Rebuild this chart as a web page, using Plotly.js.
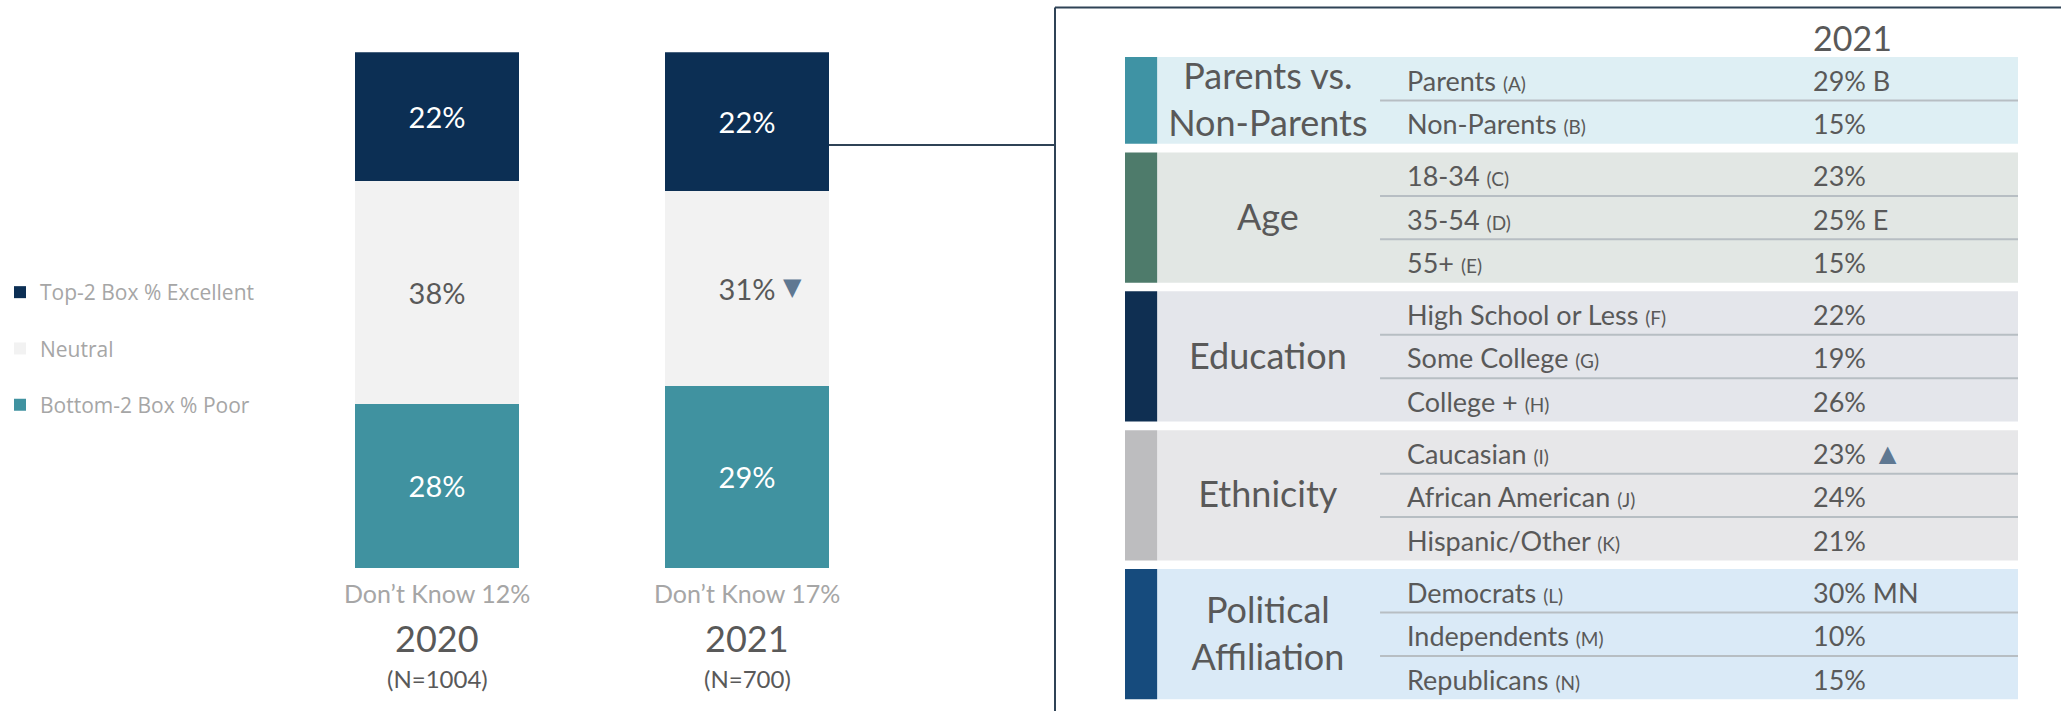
<!DOCTYPE html>
<html>
<head>
<meta charset="utf-8">
<script src="https://cdn.plot.ly/plotly-3.0.1.min.js"></script>
<style>
html, body { margin: 0; padding: 0; background: #ffffff; }
#chart { width: 2061px; height: 711px; }
</style>
</head>
<body>
<div id="chart"></div>
<script>
// ---------------- Bar chart data ----------------
const years = ["2020", "2021"];
const top2Excellent = [22, 22];
const neutral = [38, 31];
const bottom2Poor = [28, 29];
const dontKnow = [12, 17];
const sampleN = [1004, 700];
const neutralChange = ["", "down"];
const seriesNames = ["Bottom-2 Box % Poor", "Neutral", "Top-2 Box % Excellent"];

// ---------------- Table data ----------------
const tableHeader = "2021";
const groupLabels = ["Parents vs.<br>Non-Parents", "Age", "Education", "Ethnicity", "Political<br>Affiliation"];
const groupSizes = [2, 3, 3, 3, 3];
const rowLabels = ["Parents", "Non-Parents", "18-34", "35-54", "55+",
  "High School or Less", "Some College", "College +",
  "Caucasian", "African American", "Hispanic/Other",
  "Democrats", "Independents", "Republicans"];
const rowCodes = ["A", "B", "C", "D", "E", "F", "G", "H", "I", "J", "K", "L", "M", "N"];
const values2021 = [29, 15, 23, 25, 15, 22, 19, 26, 23, 24, 21, 30, 10, 15];
const sigLetters = ["B", "", "", "E", "", "", "", "", "", "", "", "MN", "", ""];
const rowChange = ["", "", "", "", "", "", "", "", "up", "", "", "", "", ""];

// ---------------- Styles / layout constants ----------------
const W = 2061, H = 711;
const px = v => v / W;
const py = v => 1 - v / H;
const FONT = "Lato, 'Open Sans', sans-serif";
const DARK_TXT = "#595959";
const LIGHT_TXT = "#a6a6a6";
const barColors = ["#4092a0", "#f2f2f2", "#0c2f54"];
const barTextColors = ["#ffffff", DARK_TXT, "#ffffff"];
const legendRanks = [3, 2, 1];
const bandColors = ["#deeff4", "#e2e7e4", "#e4e6eb", "#e7e7e9", "#daeaf7"];
const accentColors = ["#3f93a4", "#4e7b6b", "#0f2f52", "#bdbdbf", "#164b7d"];
const arrowColor = "#5f7892";
const lineColor = "#2f4356";

// table geometry (row units on y2, fraction of table width on x2)
const rowPx = 43.4;         // pixel height of one row
const tableTopPx = 57;      // pixel y of first band
const groupGap = 0.2;       // gap between groups, in rows
const textDrop = 0.12;      // small downward nudge of text, in rows
const accentW = 0.036;
const groupLabelX = 0.160;
const sepStartX = 0.2856;
const rowLabelX = 0.3158;
const valueX = 0.7704;

// ---------------- Bar traces ----------------
const seriesValues = [bottom2Poor, neutral, top2Excellent];
const traces = seriesValues.map((vals, i) => ({
  type: "bar",
  name: seriesNames[i],
  x: years,
  y: vals,
  text: vals.map(v => v + "%"),
  textposition: "inside",
  insidetextanchor: "middle",
  textangle: 0,
  constraintext: "none",
  textfont: { family: FONT, size: 29, color: barTextColors[i] },
  marker: { color: barColors[i], line: { width: 0 } },
  legendgroup: "g" + i,
  legendrank: legendRanks[i],
  hoverinfo: "skip",
  xaxis: "x",
  yaxis: "y"
}));

// ---------------- Table geometry from data ----------------
const groupStart = [];
const rowCenter = [];
let cursor = 0;
groupSizes.forEach((n, g) => {
  groupStart.push(cursor);
  for (let r = 0; r < n; r++) rowCenter.push(cursor + r + 0.5);
  cursor += n + groupGap;
});
const groupCenter = groupSizes.map((n, g) => groupStart[g] + n / 2);

const shapes = [];
groupSizes.forEach((n, g) => {
  shapes.push({ type: "rect", xref: "x2", yref: "y2", layer: "below",
    x0: accentW, x1: 1, y0: groupStart[g], y1: groupStart[g] + n,
    fillcolor: bandColors[g], line: { width: 0 } });
  shapes.push({ type: "rect", xref: "x2", yref: "y2", layer: "below",
    x0: 0, x1: accentW, y0: groupStart[g], y1: groupStart[g] + n,
    fillcolor: accentColors[g], line: { width: 0 } });
  for (let r = 1; r < n; r++) {
    shapes.push({ type: "line", xref: "x2", yref: "y2", layer: "below",
      x0: sepStartX, x1: 1, y0: groupStart[g] + r, y1: groupStart[g] + r,
      line: { color: "#b7bec3", width: 2 } });
  }
});
// box border and connector line
shapes.push({ type: "line", xref: "paper", yref: "paper", x0: px(1055), x1: 1, y0: py(7.5), y1: py(7.5), line: { color: lineColor, width: 2 } });
shapes.push({ type: "line", xref: "paper", yref: "paper", x0: px(1055), x1: px(1055), y0: py(7.5), y1: 0, line: { color: lineColor, width: 2 } });
shapes.push({ type: "line", xref: "paper", yref: "paper", x0: px(829), x1: px(1055), y0: py(145), y1: py(145), line: { color: lineColor, width: 2 } });

// table text traces
traces.push({
  type: "scatter", mode: "text", xaxis: "x2", yaxis: "y2", showlegend: false, hoverinfo: "skip", cliponaxis: false,
  x: groupLabels.map(() => groupLabelX), y: groupCenter.map(c => c + textDrop * 0.6), text: groupLabels,
  textposition: "middle center",
  textfont: { family: FONT, size: 36, color: DARK_TXT }
});
traces.push({
  type: "scatter", mode: "text", xaxis: "x2", yaxis: "y2", showlegend: false, hoverinfo: "skip", cliponaxis: false,
  x: rowLabels.map(() => rowLabelX), y: rowCenter.map(c => c + textDrop),
  text: rowLabels.map((l, i) => l + " <span style=\"font-size:19px\">(" + rowCodes[i] + ")</span>"),
  textposition: "middle right",
  textfont: { family: FONT, size: 27, color: DARK_TXT }
});
traces.push({
  type: "scatter", mode: "text", xaxis: "x2", yaxis: "y2", showlegend: false, hoverinfo: "skip", cliponaxis: false,
  x: values2021.map(() => valueX), y: rowCenter.map(c => c + textDrop),
  text: values2021.map((v, i) => v + "%" + (sigLetters[i] ? " " + sigLetters[i] : "") +
    (rowChange[i] === "up" ? " <span style=\"color:" + arrowColor + ";font-size:30px\">▲</span>" : (rowChange[i] === "down" ? " <span style=\"color:" + arrowColor + ";font-size:30px\">▼</span>" : ""))),
  textposition: "middle right",
  textfont: { family: FONT, size: 27, color: DARK_TXT }
});
traces.push({
  type: "scatter", mode: "text", xaxis: "x2", yaxis: "y2", showlegend: false, hoverinfo: "skip", cliponaxis: false,
  x: [valueX], y: [-(tableTopPx - 42) / rowPx], text: [tableHeader],
  textposition: "middle right",
  textfont: { family: FONT, size: 34, color: DARK_TXT }
});

// ---------------- Annotations ----------------
const annotations = [];
years.forEach((yr, i) => {
  annotations.push({ xref: "x", yref: "paper", x: i, y: py(593), text: "Don’t Know " + dontKnow[i] + "%",
    showarrow: false, font: { family: FONT, size: 25, color: LIGHT_TXT }, yanchor: "middle" });
  annotations.push({ xref: "x", yref: "paper", x: i, y: py(638), text: yr,
    showarrow: false, font: { family: FONT, size: 36, color: DARK_TXT }, yanchor: "middle" });
  annotations.push({ xref: "x", yref: "paper", x: i, y: py(678), text: "(N=" + sampleN[i] + ")",
    showarrow: false, font: { family: FONT, size: 24, color: DARK_TXT }, yanchor: "middle" });
  if (neutralChange[i]) {
    const total = top2Excellent[i] + neutral[i] + bottom2Poor[i];
    const yMid = (bottom2Poor[i] + neutral[i] / 2) / total * 100;
    annotations.push({ xref: "x", yref: "y", x: i, y: yMid, xshift: 45, yshift: 1,
      text: neutralChange[i] === "down" ? "▼" : "▲", showarrow: false,
      font: { family: "DejaVu Sans", size: 24, color: arrowColor } });
  }
});

const layout = {
  width: W, height: H,
  margin: { l: 0, r: 0, t: 0, b: 0, pad: 0 },
  paper_bgcolor: "#ffffff", plot_bgcolor: "rgba(0,0,0,0)",
  barmode: "stack", barnorm: "percent", bargap: 0.474,
  showlegend: true,
  legend: {
    x: 0, xanchor: "left", y: py(272), yanchor: "top",
    traceorder: "grouped", tracegroupgap: 26,
    font: { family: "'Open Sans', sans-serif", size: 21, color: LIGHT_TXT },
    bgcolor: "rgba(0,0,0,0)", borderwidth: 0
  },
  xaxis: { domain: [px(282), px(902)], range: [-0.5, 1.5], type: "category",
    showticklabels: false, showgrid: false, zeroline: false, showline: false, ticks: "" , fixedrange: true},
  yaxis: { domain: [py(568), py(52.3)], range: [0, 100], showticklabels: false,
    showgrid: false, zeroline: false, showline: false, ticks: "", fixedrange: true },
  xaxis2: { domain: [px(1125), px(2018)], range: [0, 1], anchor: "y2",
    showticklabels: false, showgrid: false, zeroline: false, showline: false, ticks: "", fixedrange: true },
  yaxis2: { domain: [0, 1], range: [(H - tableTopPx) / rowPx, -tableTopPx / rowPx], anchor: "x2",
    showticklabels: false, showgrid: false, zeroline: false, showline: false, ticks: "", fixedrange: true },
  shapes: shapes,
  annotations: annotations,
  hovermode: false
};

Plotly.newPlot("chart", traces, layout, { displayModeBar: false, staticPlot: true });
</script>
</body>
</html>
